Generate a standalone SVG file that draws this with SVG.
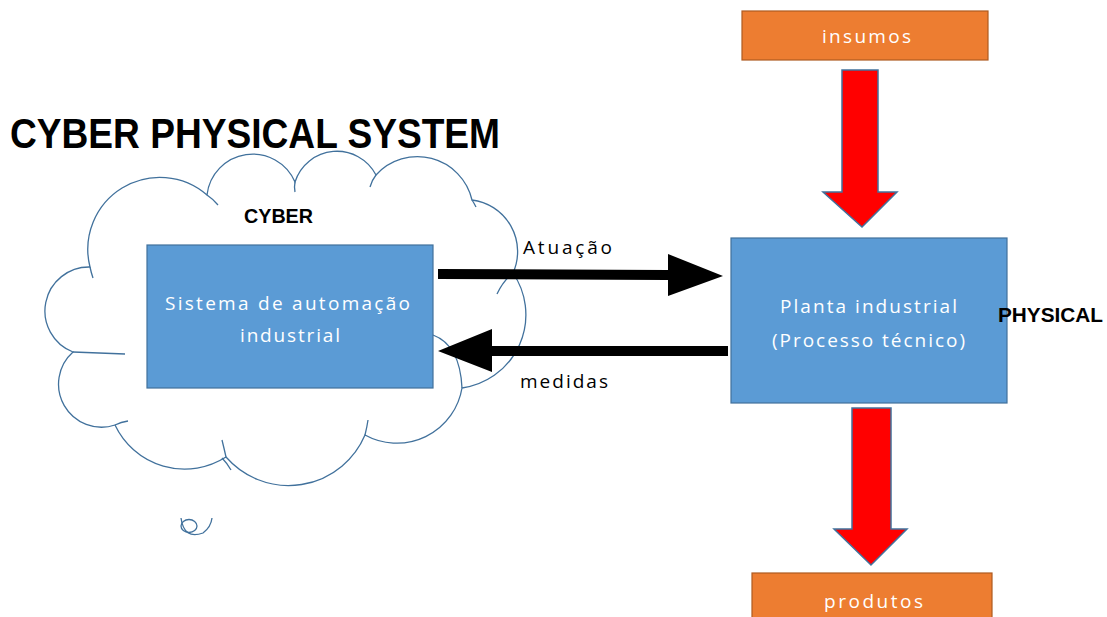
<svg xmlns="http://www.w3.org/2000/svg" width="1107" height="617" viewBox="0 0 1107 617">
  <style>
    .cloud { fill: #ffffff; stroke: #41719C; stroke-width: 1.3; }
    .tick { fill: none; stroke: #41719C; stroke-width: 1.3; }
    .blue { fill: #5B9BD5; stroke: #41719C; stroke-width: 1.2; }
    .orange { fill: #ED7D31; stroke: #AE5A21; stroke-width: 1.2; }
    .flow { fill: #FF0000; stroke: #41719C; stroke-width: 1.5; stroke-linejoin: miter; }
    .link { fill: #000000; stroke: none; }
    .inbox { font-family: "Open Sans", "Liberation Sans", sans-serif; font-size: 19px; fill: #ffffff; }
    .label { font-family: "Open Sans", "Liberation Sans", sans-serif; font-size: 19px; fill: #000000; }
    .bold { font-family: "Liberation Sans", Arial, sans-serif; font-weight: bold; fill: #000000; }
  </style>

  <rect width="1107" height="617" fill="#ffffff"/>

  <text class="bold" x="10" y="148" font-size="42" textLength="490" lengthAdjust="spacingAndGlyphs">CYBER PHYSICAL SYSTEM</text>

  <!-- cyber side: cloud outline with inner arc ticks -->
  <g id="cloud">
    <path class="cloud" d="M90,267 A72,72 0 0 1 207,195 A46,46 0 0 1 295,182 A44,44 0 0 1 376,175 A56,56 0 0 1 472,200 A52,52 0 0 1 513,273 A74,74 0 0 1 462,388 A66,66 0 0 1 365,435 A83,83 0 0 1 226,457 A77,77 0 0 1 115,425 A43,43 0 0 1 73,352 A44,44 0 0 1 90,267 Z"/>
    <path class="tick" d="M90,267 Q91,272 93,278"/>
    <path class="tick" d="M207,195 Q213,199 218,205"/>
    <path class="tick" d="M295,182 Q294,187 295,192"/>
    <path class="tick" d="M376,175 Q372,180 370,187"/>
    <path class="tick" d="M472,200 Q474,203 476,207"/>
    <path class="tick" d="M513,273 Q503,281 497,294"/>
    <path class="tick" d="M433,335 Q460,345 462,388"/>
    <path class="tick" d="M365,435 Q367,427 368,420"/>
    <path class="tick" d="M226,457 Q224,448 222,440"/>
    <path class="tick" d="M222,458 Q227,463 231,470"/>
    <path class="tick" d="M115,425 Q121,422 128,421"/>
    <path class="tick" d="M73,352 Q100,353 125,354"/>
    <ellipse class="tick" cx="189" cy="526" rx="8" ry="6.5"/>
    <path class="tick" d="M181,518 Q184,540 203,533 Q211,527 212,518"/>
    <text class="bold" x="244" y="223" font-size="21" textLength="69" lengthAdjust="spacingAndGlyphs">CYBER</text>
  </g>

  <g id="sistema">
    <rect class="blue" x="147" y="245" width="286" height="143"/>
    <text class="inbox" x="165" y="310" textLength="245" lengthAdjust="spacing">Sistema de automação</text>
    <text class="inbox" x="240" y="342" textLength="100" lengthAdjust="spacing">industrial</text>
  </g>

  <g id="planta">
    <rect class="blue" x="731" y="238" width="276" height="165"/>
    <text class="inbox" x="780" y="313" textLength="177" lengthAdjust="spacing">Planta industrial</text>
    <text class="inbox" x="772" y="347" textLength="193" lengthAdjust="spacing">(Processo técnico)</text>
  </g>

  <text class="bold" x="998" y="322" font-size="21" textLength="105" lengthAdjust="spacingAndGlyphs">PHYSICAL</text>

  <g id="insumos">
    <rect class="orange" x="742" y="11" width="246" height="49"/>
    <text class="inbox" x="822" y="43" textLength="89" lengthAdjust="spacing">insumos</text>
  </g>

  <g id="produtos">
    <rect class="orange" x="752" y="573" width="240" height="50"/>
    <text class="inbox" x="824" y="608" textLength="99" lengthAdjust="spacing">produtos</text>
  </g>

  <g id="connectors">
    <!-- material flow -->
    <polygon class="flow" points="842,70 878,70 878,192 897,192 862,227 823,192 842,192"/>
    <polygon class="flow" points="852,408 891,408 891,529 907,529 871,565 834,529 852,529"/>
    <!-- actuation: cyber to physical -->
    <polygon class="link" points="438,269 668,270 668,254 723,276 668,296 668,280 438,279"/>
    <text class="label" x="523" y="254" textLength="89" lengthAdjust="spacing">Atuação</text>
    <!-- measurements: physical to cyber -->
    <polygon class="link" points="728,346 492,346 492,329 438,351 492,372 492,356 728,356"/>
    <text class="label" x="520" y="388" textLength="88" lengthAdjust="spacing">medidas</text>
  </g>
</svg>
